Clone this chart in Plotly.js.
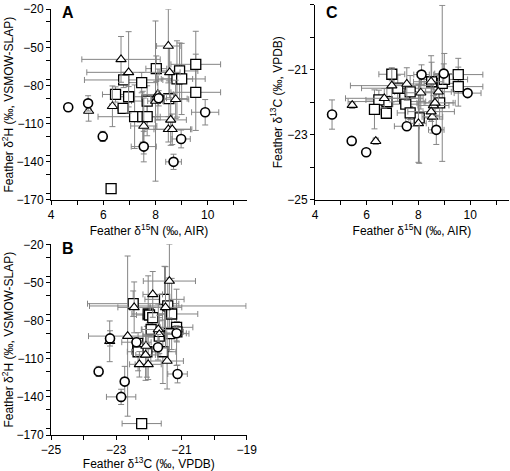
<!DOCTYPE html>
<html>
<head>
<meta charset="utf-8">
<script src="https://cdn.plot.ly/plotly-3.0.1.min.js"></script>
<style>html,body{margin:0;padding:0;background:#fff;}#chart{width:510px;height:471px;}</style>
</head>
<body>
<div id="chart"></div>
<script>
// Circles (N = δ15N, C = δ13C, H = δ2H) with errors
const circN    = [4.66, 5.42, 5.98, 7.55, 8.12, 8.69, 8.98, 9.90];
const circC    = [-22.38, -23.19, -23.54, -22.74, -21.15, -22.85, -21.12, -21.72];
const circH    = [-97, -94, -120, -128, -90, -140, -122, -101];
const circNErr = [0.08, 0.15, 0.10, 0.48, 0.30, 0.30, 0.35, 0.52];
const circCErr = [0.45, 0.05, 0.10, 0.10, 0.30, 0.45, 0.30, 0.10];
const circHErr = [3, 6, 4, 12, 6, 6, 7, 10];

// Squares
const sqN    = [8.03, 9.54, 8.92, 8.82, 9.00, 6.78, 7.47, 9.54, 6.47, 6.97, 7.68, 8.51, 6.76, 7.20, 7.51, 7.68, 6.30];
const sqC    = [-22.48, -21.52, -21.42, -22.02, -21.30, -21.98, -21.88, -21.15, -21.93, -21.14, -21.68, -21.37, -22.34, -21.57, -22.06, -22.33, -22.22];
const sqH    = [-66.7, -63.3, -68.5, -74.8, -74.8, -75.6, -77.7, -85.3, -87.0, -88.8, -92.2, -90.3, -97.9, -104.5, -104.5, -104.5, -161.0];
const sqNErr = [0.4, 0.95, 0.7, 0.6, 0.9, 1.5, 0.6, 0.95, 0.5, 0.5, 0.6, 0.7, 0.2, 1.4, 0.5, 0.5, 0.1];
const sqCErr = [1.4, 0.6, 2.4, 0.5, 0.8, 0.4, 0.3, 0.5, 0.3, 0.2, 0.5, 0.6, 0.1, 0.4, 0.6, 0.2, 0.6];
const sqHErr = [10, 26, 22, 30, 28, 6, 8, 30, 6, 8, 12, 14, 3, 25, 20, 15, 2];

// Triangles
const triN    = [5.44, 6.68, 6.97, 8.49, 8.54, 8.09, 8.00, 8.77, 6.35, 8.58, 7.55, 8.49, 8.64];
const triC    = [-22.09, -21.88, -21.49, -21.37, -22.45, -21.71, -22.65, -21.68, -23.20, -22.10, -21.44, -22.29, -22.02];
const triH    = [-100, -59.4, -69.6, -48.9, -69.6, -87.0, -92.2, -90.8, -96.3, -107.0, -111.8, -114.4, -114.4];
const triNErr = [0.1, 1.5, 1.6, 0.45, 0.4, 0.6, 0.3, 0.5, 0.1, 0.6, 0.5, 0.9, 0.7];
const triCErr = [0.1, 0.3, 0.5, 0.8, 0.5, 0.5, 1.2, 0.5, 0.1, 0.3, 0.5, 0.3, 0.4];
const triHErr = [8, 18, 32, 29, 20, 20, 63, 15, 16, 20, 22, 10, 12];

const panelLabels = ['A', 'B', 'C'];
const titleN = 'Feather δ<sup>15</sup>N (‰, AIR)';
const titleC = 'Feather δ<sup>13</sup>C (‰, VPDB)';
const titleH = 'Feather δ<sup>2</sup>H (‰, VSMOW-SLAP)';

const errColor = '#858585';
const FONT = 'Liberation Sans, Arial, sans-serif';

const shapes = [
  {sym: 'square', size: 10, lw: 1.3, N: sqN, C: sqC, H: sqH, nE: sqNErr, cE: sqCErr, hE: sqHErr},
  {sym: 'triangle-up', size: 9, lw: 1.1, N: triN, C: triC, H: triH, nE: triNErr, cE: triCErr, hE: triHErr},
  {sym: 'circle', size: 9, lw: 1.6, N: circN, C: circC, H: circH, nE: circNErr, cE: circCErr, hE: circHErr}
];

function err(arr) {
  return {type: 'data', array: arr, visible: true, color: errColor, thickness: 1, width: 3};
}

const traces = [];
// panel A: N vs H; panel C: N vs C; panel B: C vs H
const panels = [
  {xa: 'x', ya: 'y', xk: 'N', yk: 'H', xe: 'nE', ye: 'hE'},
  {xa: 'x2', ya: 'y2', xk: 'N', yk: 'C', xe: 'nE', ye: 'cE'},
  {xa: 'x3', ya: 'y3', xk: 'C', yk: 'H', xe: 'cE', ye: 'hE'}
];
panels.forEach(p => {
  shapes.forEach(s => {
    traces.push({
      type: 'scatter', mode: 'markers',
      x: s[p.xk], y: s[p.yk],
      xaxis: p.xa, yaxis: p.ya,
      error_x: err(s[p.xe]), error_y: err(s[p.ye]),
      cliponaxis: false,
      marker: {symbol: s.sym, size: s.size, color: '#ffffff', line: {color: '#000000', width: s.lw}},
      showlegend: false, hoverinfo: 'skip'
    });
  });
});

function axis(extra) {
  return Object.assign({
    showline: true, linecolor: '#000', linewidth: 1,
    ticks: 'outside', ticklen: 4, tickwidth: 1, tickcolor: '#000',
    showgrid: false, zeroline: false, mirror: false,
    tickfont: {family: FONT, size: 12, color: '#000'}
  }, extra);
}
function minor(d) { return {ticks: 'outside', ticklen: 4, tickcolor: '#000', tickwidth: 1, dtick: d, showgrid: false}; }

const layout = {
  width: 510, height: 471,
  margin: {l: 0, r: 0, t: 0, b: 0},
  paper_bgcolor: '#fff', plot_bgcolor: 'rgba(0,0,0,0)',
  showlegend: false,
  font: {family: FONT, size: 12, color: '#000'},
  xaxis: axis({domain: [0.1, 0.4843], range: [4, 11.5], tick0: 4, dtick: 2, minor: minor(1), anchor: 'y',
    title: {text: titleN, font: {family: FONT, size: 12}, standoff: 4}}),
  yaxis: axis({domain: [0.5754, 0.9803], range: [-170, -20], tick0: -20, dtick: 30, minor: minor(15), anchor: 'x',
    title: {text: titleH, font: {family: FONT, size: 12}, standoff: 0}}),
  xaxis2: axis({domain: [0.6176, 0.998], range: [4, 11.5], tick0: 4, dtick: 2, minor: minor(1), anchor: 'y2',
    title: {text: titleN, font: {family: FONT, size: 12}, standoff: 4}}),
  yaxis2: axis({domain: [0.576, 0.990], range: [-25, -19], tick0: -19, dtick: 2, minor: minor(1), anchor: 'x2',
    title: {text: titleC, font: {family: FONT, size: 12}, standoff: 2}}),
  xaxis3: axis({domain: [0.1, 0.4837], range: [-25, -19], tick0: -25, dtick: 2, minor: minor(1), anchor: 'y3',
    title: {text: titleC, font: {family: FONT, size: 12}, standoff: 4}}),
  yaxis3: axis({domain: [0.0764, 0.4813], range: [-170, -20], tick0: -20, dtick: 30, minor: minor(15), anchor: 'x3',
    title: {text: titleH, font: {family: FONT, size: 12}, standoff: 0}}),
  annotations: [
    {text: '<b>' + panelLabels[0] + '</b>', xref: 'paper', yref: 'paper', x: 68/510, y: 1 - 13/471, showarrow: false, xanchor: 'center', yanchor: 'middle', font: {family: FONT, size: 16, color: '#000'}},
    {text: '<b>' + panelLabels[1] + '</b>', xref: 'paper', yref: 'paper', x: 68/510, y: 1 - 248/471, showarrow: false, xanchor: 'center', yanchor: 'middle', font: {family: FONT, size: 16, color: '#000'}},
    {text: '<b>' + panelLabels[2] + '</b>', xref: 'paper', yref: 'paper', x: 332/510, y: 1 - 13/471, showarrow: false, xanchor: 'center', yanchor: 'middle', font: {family: FONT, size: 16, color: '#000'}}
  ]
};

Plotly.newPlot('chart', traces, layout, {staticPlot: true, displayModeBar: false});
</script>
</body>
</html>
